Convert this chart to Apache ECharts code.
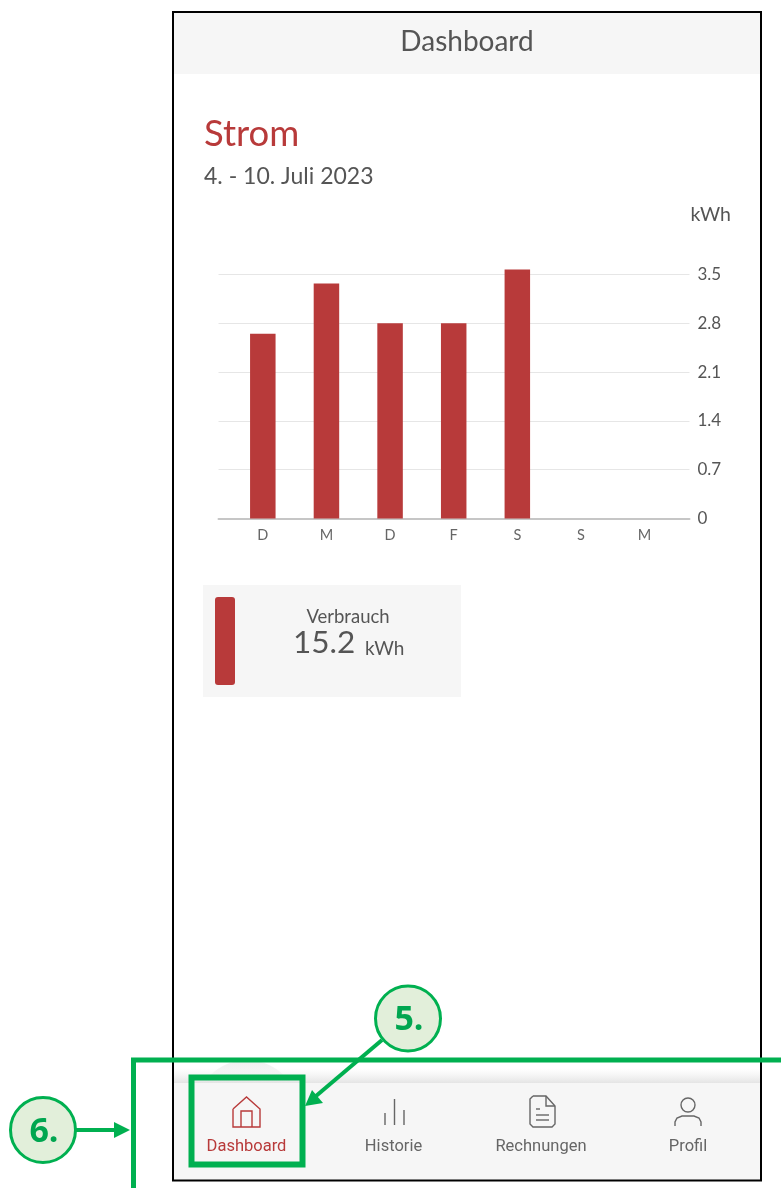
<!DOCTYPE html>
<html><head><meta charset="utf-8">
<style>html,body{margin:0;padding:0;background:#fff}#c{width:781px;height:1188px}</style>
<script src="https://cdn.jsdelivr.net/npm/echarts@6/dist/echarts.min.js"></script>
</head><body><div id="c"></div>
<script>
const categories = ['D','M','D','F','S','S','M'];
const verbrauch = [2.65,3.37,2.80,2.80,3.57,0,0];
const yMax = 3.5, yStep = 0.7;
const totalLabel = '15.2', unit = 'kWh', dateLabel = '4. - 10. Juli 2023';
const navItems = [['Dashboard',246.5],['Historie',393.5],['Rechnungen',541],['Profil',688]];

const RED='#b83a3a', GREY='#555', GREEN='#00b050', F='Lato, "Noto Sans", sans-serif', NF='Roboto, sans-serif';
const T=(x,y,text,size,fill,align='left',font=F,weight=400)=>({type:'text',z:20,x,y,style:{text,fontSize:size,fill,align,verticalAlign:'middle',fontFamily:font,fontWeight:weight}});
const R=(x,y,w,h,fill,z=1,r=0)=>({type:'rect',z,shape:{x,y,width:w,height:h,r},style:{fill}});
const L=(x1,y1,x2,y2,stroke,w,z=20)=>({type:'line',z,shape:{x1,y1,x2,y2},style:{stroke,lineWidth:w}});
const PL=(points,stroke,w=1.4)=>({type:'polyline',z:20,shape:{points},style:{stroke,lineWidth:w,fill:'none'}});
const A=(pts)=>({type:'polygon',z:31,shape:{points:pts},style:{fill:GREEN}});
const C=(x,y,t)=>[{type:'circle',z:32,shape:{cx:x,cy:y,r:32.5},style:{fill:'#e2efda',stroke:GREEN,lineWidth:3}},
  {type:'text',z:33,x:x+1,y:y+2,style:{text:t,fontSize:34,fontWeight:700,fill:'#00a650',align:'center',verticalAlign:'middle',fontFamily:'"Open Sans", sans-serif'}}];

const graphics=[
  R(174,13,586,61,'#f6f6f6'),
  {type:'rect',z:2,shape:{x:174,y:1068,width:586,height:15},style:{fill:{type:'linear',x:0,y:0,x2:0,y2:1,colorStops:[{offset:0,color:'rgba(240,240,240,0)'},{offset:1,color:'rgba(228,228,228,1)'}]}}},
  {type:'circle',z:1,shape:{cx:247,cy:1112,r:52},style:{fill:{type:'linear',x:0,y:0,x2:0,y2:1,colorStops:[{offset:0,color:'rgba(238,238,238,0.9)'},{offset:0.3,color:'rgba(255,255,255,1)'},{offset:1,color:'rgba(255,255,255,1)'}]}}},
  R(174,1083,586,97,'#f6f6f6',2),
  {type:'rect',z:15,shape:{x:173,y:12,width:588,height:1168.5},style:{fill:'none',stroke:'#000',lineWidth:2}},
  T(467,42,'Dashboard',28,GREY,'center'),
  T(204,134,'Strom',36.5,RED),
  T(204,176.5,dateLabel,23,GREY),
  T(731,215,unit,19.5,GREY,'right'),
  R(203,585,258,112,'#f6f6f6'),
  R(215,597,20,88,RED,3,3),
  T(348,617,'Verbrauch',18.5,GREY,'center'),
  T(293,643,totalLabel,31.5,GREY),
  T(365,649,unit,19,GREY),
  // nav icons
  PL([[233,1109],[246.5,1097],[260,1109],[260,1127],[233,1127],[233,1109]],RED),
  PL([[241,1127],[241,1111],[252,1111],[252,1127]],RED),
  L(385,1125,385,1113,'#666',1.4), L(394.5,1125,394.5,1099,'#666',1.4), L(404,1125,404,1110,'#666',1.4),
  PL([[533,1096],[546,1096],[555,1106],[555,1124],[552,1127],[533,1127],[530,1124],[530,1099],[533,1096]],'#666'),
  PL([[546,1096],[546,1106],[555,1106]],'#666'),
  L(536,1109,540,1109,'#666',1.4), L(536,1115,549,1115,'#666',1.4), L(536,1120,549,1120,'#666',1.4),
  {type:'circle',z:20,shape:{cx:688,cy:1105,r:7},style:{fill:'none',stroke:'#666',lineWidth:1.4}},
  PL([[675,1126],[675,1122],[677,1118],[682,1116],[694,1116],[699,1118],[701,1122],[701,1126]],'#666'),
  ...navItems.map((n,i)=>T(n[1],1146.5,n[0],16.5,i===0?RED:'#666','center',NF,400)),
  // annotations
  {type:'rect',z:30,shape:{x:191.5,y:1077.5,width:111,height:87},style:{fill:'none',stroke:GREEN,lineWidth:6}},
  L(131,1060,781,1060,GREEN,5,30),
  L(133.5,1058,133.5,1188,GREEN,5,30),
  L(382,1040,316,1096,GREEN,4,30),
  A([[305,1106],[312,1090],[323,1103]]),
  L(76,1130,116,1130,GREEN,4,30),
  A([[130,1130],[114,1122],[114,1138]]),
  ...C(408,1018.5,'5.'),
  ...C(43,1130,'6.')
];

const chart=echarts.init(document.getElementById('c'),null,{renderer:'canvas'});
chart.setOption({
  animation:false,
  backgroundColor:'#fff',
  grid:[
    {left:218.5,width:471,top:274.5,height:244},
    {left:231,width:445.4,top:274.5,height:244}
  ],
  xAxis:[
    {gridIndex:0,type:'category',data:categories,position:'bottom',axisTick:{show:false},axisLabel:{show:false},
     axisLine:{lineStyle:{color:'#c6c6c6',width:2}}},
    {gridIndex:1,type:'category',data:categories,axisTick:{show:false},axisLine:{show:false},
     axisLabel:{color:'#666',fontSize:14.5,fontFamily:F,margin:9}}
  ],
  yAxis:[
    {gridIndex:0,type:'value',min:0,max:yMax,interval:yStep,position:'right',axisLine:{show:false},axisTick:{show:false},
     axisLabel:{color:GREY,fontSize:17,fontFamily:F,margin:8,padding:[0,0,11,0]},
     splitLine:{lineStyle:{color:'#e6e6e6',width:1}}},
    {gridIndex:1,type:'value',min:0,max:yMax,interval:yStep,show:false,splitLine:{show:false}}
  ],
  series:[{type:'bar',name:'Verbrauch',xAxisIndex:1,yAxisIndex:1,data:verbrauch,barWidth:25.5,clip:false,z:5,
    itemStyle:{color:RED}}],
  graphic:{elements:graphics}
});
</script></body></html>
